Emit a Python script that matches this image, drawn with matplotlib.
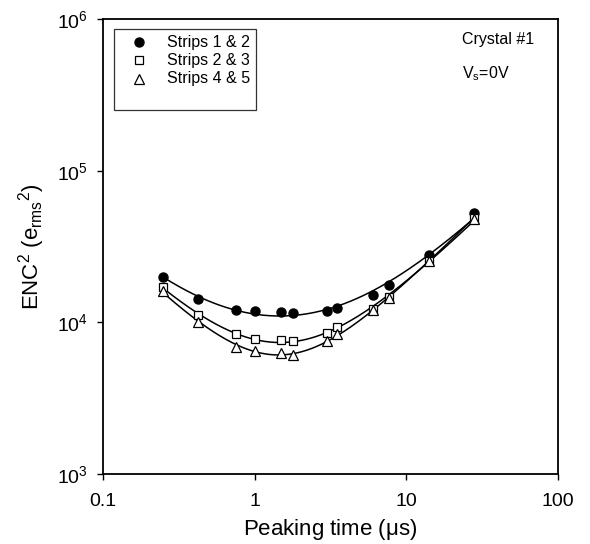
import matplotlib
matplotlib.use("Agg")
import matplotlib.pyplot as plt
import numpy as np
from matplotlib.lines import Line2D

plt.rcParams["font.family"] = ["Liberation Sans", "DejaVu Sans"]
plt.rcParams["mathtext.fontset"] = "custom"
plt.rcParams["mathtext.rm"] = "Liberation Sans"
plt.rcParams["mathtext.it"] = "Liberation Sans"
plt.rcParams["mathtext.default"] = "regular"

# Peaking times (us)
peaking_time = [0.25, 0.42, 0.75, 1.0, 1.5, 1.8, 3.0, 3.5, 6.0, 7.7, 14.0, 28.0]

# ENC^2 (e_rms^2)
enc2_strips_12 = [19800, 14300, 12100, 11800, 11700, 11500, 11900, 12500, 15200, 17600, 28000, 52600]
enc2_strips_23 = [17000, 11100, 8400, 7800, 7650, 7570, 8450, 9300, 12200, 14600, 25500, 48800]
enc2_strips_45 = [16200, 10050, 6900, 6450, 6250, 6100, 7550, 8350, 12100, 14500, 25500, 48000]

series_labels = ["Strips 1 & 2", "Strips 2 & 3", "Strips 4 & 5"]


def noise_fit(t, enc2):
    """Least-squares fit of ENC^2 = a/t + b + c*t (relative weighting)."""
    t = np.asarray(t, dtype=float)
    y = np.asarray(enc2, dtype=float)
    design = np.column_stack([1.0 / t, np.ones_like(t), t]) / y[:, None]
    coef, *_ = np.linalg.lstsq(design, np.ones_like(y), rcond=None)
    tt = np.logspace(np.log10(t.min()), np.log10(t.max()), 200)
    return tt, coef[0] / tt + coef[1] + coef[2] * tt


fig = plt.figure(figsize=(5.9, 5.44), dpi=100)
ax = fig.add_axes([0.1746, 0.1287, 0.7712, 0.8364])

marker_styles = [
    dict(marker="o", markerfacecolor="black", markeredgecolor="black", markersize=6.5),
    dict(marker="s", markerfacecolor="white", markeredgecolor="black", markersize=6, markeredgewidth=0.9),
    dict(marker="^", markerfacecolor="white", markeredgecolor="black", markersize=6.5, markeredgewidth=0.9),
]

handles = []
for enc2, label, style in zip(
    [enc2_strips_12, enc2_strips_23, enc2_strips_45], series_labels, marker_styles
):
    tt, fit = noise_fit(peaking_time, enc2)
    ax.plot(tt, fit, color="black", linewidth=1.1, zorder=2)
    (h,) = ax.plot(peaking_time, enc2, linestyle="none", label=label, zorder=3, **style)
    handles.append(h)

ax.set_xscale("log")
ax.set_yscale("log")
ax.set_xlim(0.1, 100)
ax.set_ylim(1e3, 1e6)
ax.xaxis.set_major_locator(matplotlib.ticker.LogLocator(base=10, numticks=10))
ax.xaxis.set_major_formatter(matplotlib.ticker.FuncFormatter(lambda v, _: f"{v:g}"))
ax.xaxis.set_minor_locator(matplotlib.ticker.NullLocator())
ax.yaxis.set_minor_locator(matplotlib.ticker.NullLocator())

for spine in ax.spines.values():
    spine.set_linewidth(1.3)
ax.tick_params(axis="both", which="major", direction="out", length=4, width=1.0, labelsize=14)
ax.tick_params(axis="x", pad=10)
ax.tick_params(axis="y", pad=7)

ax.set_xlabel("Peaking time ($\\mu$s)", fontsize=16, labelpad=5)
ax.set_ylabel("ENC$^2$ (e$_{rms}$$^2$)", fontsize=16, labelpad=7)

# blank row keeps the extra empty space at the bottom of the legend box
blank = Line2D([], [], linestyle="none")
leg = ax.legend(handles + [blank], series_labels + [""], loc="upper left",
                bbox_to_anchor=(0.024, 0.977), fontsize=11.5, frameon=True, fancybox=False,
                edgecolor="black", handlelength=2.4, handleheight=0.4, handletextpad=0.6,
                labelspacing=0.2, borderpad=0.35, borderaxespad=0.0)
leg.get_frame().set_linewidth(0.9)

ax.text(0.788, 0.945, "Crystal #1", transform=ax.transAxes, fontsize=11.5, va="baseline")
ax.text(0.788, 0.8697, "V$_s$=0V", transform=ax.transAxes, fontsize=11.5, va="baseline")

fig.savefig("out.png", dpi=100, facecolor="white")
